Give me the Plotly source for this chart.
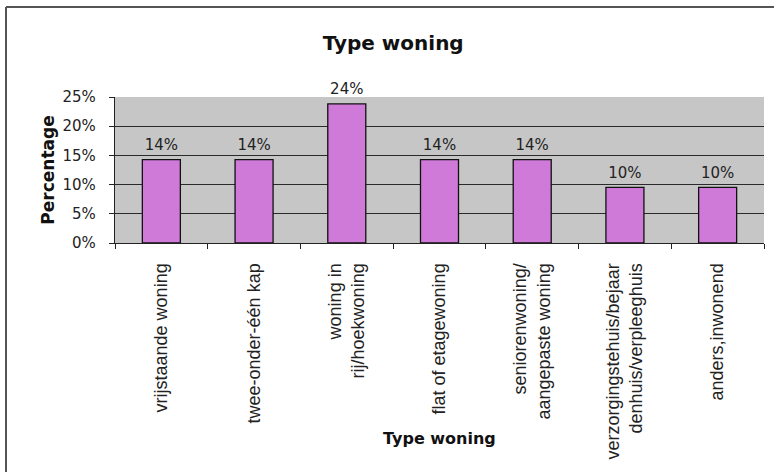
import plotly.graph_objects as go

categories = [
    "vrijstaande woning",
    "twee-onder-één kap",
    "woning in<br>rij/hoekwoning",
    "flat of etagewoning",
    "seniorenwoning/<br>aangepaste woning",
    "verzorgingstehuis/bejaar<br>denhuis/verpleeghuis",
    "anders,inwonend",
]
values = [14.29, 14.29, 23.81, 14.29, 14.29, 9.52, 9.52]
labels = ["14%", "14%", "24%", "14%", "14%", "10%", "10%"]
y_ticks = [0, 5, 10, 15, 20, 25]
y_tick_text = ["0%", "5%", "10%", "15%", "20%", "25%"]

fig = go.Figure()
fig.add_trace(
    go.Bar(
        x=categories,
        y=values,
        marker=dict(color="#cf7ad8", line=dict(color="#111111", width=1.3)),
        hoverinfo="skip",
    )
)
fig.add_trace(
    go.Scatter(
        x=categories,
        y=values,
        text=labels,
        mode="markers+text",
        textposition="top center",
        marker=dict(size=8, opacity=0),
        textfont=dict(family="DejaVu Sans", size=15, color="#222222"),
        cliponaxis=False,
    )
)

fig.update_layout(
    width=774,
    height=472,
    margin=dict(l=115, r=10, t=97, b=229),
    paper_bgcolor="white",
    plot_bgcolor="#c6c6c6",
    bargap=0.59,
    showlegend=False,
    title=dict(
        text="<b>Type woning</b>",
        x=0.508,
        xref="container",
        xanchor="center",
        y=1 - 43 / 472,
        yref="container",
        yanchor="middle",
        font=dict(family="DejaVu Sans", size=20, color="#111111"),
    ),
)

fig.update_xaxes(
    tickangle=-90,
    tickfont=dict(family="Liberation Sans", size=18, color="#222222"),
    showline=True,
    linecolor="#222222",
    linewidth=1.3,
    ticks="outside",
    tickson="boundaries",
    ticklen=5,
    tickcolor="#222222",
    ticklabelstandoff=12,
    showgrid=False,
    automargin=False,
)

fig.update_yaxes(
    range=[0, 25],
    tickvals=y_ticks,
    ticktext=y_tick_text,
    tickfont=dict(family="DejaVu Sans", size=15, color="#222222"),
    showline=True,
    linecolor="#222222",
    linewidth=1.3,
    ticks="outside",
    ticklen=5,
    tickcolor="#222222",
    ticklabelstandoff=10,
    showgrid=True,
    gridcolor="#2a2a2a",
    gridwidth=1,
    zeroline=False,
    automargin=False,
    title=dict(
        text="<b>Percentage</b>",
        font=dict(family="DejaVu Sans", size=17, color="#111111"),
        standoff=3,
    ),
)

# x-axis title placed at a fixed position like the reference
fig.add_annotation(
    text="<b>Type woning</b>",
    xref="paper",
    yref="paper",
    x=0.5,
    y=(243 - 438) / 146,
    xanchor="center",
    yanchor="middle",
    showarrow=False,
    font=dict(family="DejaVu Sans", size=16, color="#111111"),
)

# outer frame (top and left edges)
fig.add_shape(type="line", xref="paper", yref="paper",
              x0=-109 / 649, x1=659 / 649, y0=(243 - 7) / 146, y1=(243 - 7) / 146,
              line=dict(color="#555555", width=2))
fig.add_shape(type="line", xref="paper", yref="paper",
              x0=-109 / 649, x1=-109 / 649, y0=(243 - 7) / 146, y1=(243 - 472) / 146,
              line=dict(color="#555555", width=2))

fig.write_html("out.html", config={"displayModeBar": False},
               post_script="document.body.style.margin='0';")
